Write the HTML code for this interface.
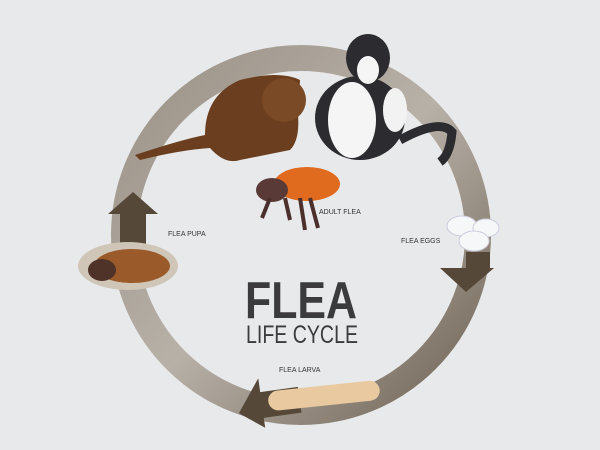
<!DOCTYPE html>
<html><head><style>
html,body{margin:0;padding:0;width:600px;height:450px;overflow:hidden;background:#e8e9eb;}
svg{display:block}
text{font-family:"Liberation Sans",sans-serif;}
</style></head><body>
<svg width="600" height="450" viewBox="0 0 600 450">
<defs>
<linearGradient id="g" x1="0" y1="0" x2="1" y2="1">
<stop offset="0" stop-color="#9a9186"/><stop offset="0.5" stop-color="#b8b1a8"/><stop offset="1" stop-color="#6e6254"/>
</linearGradient>
</defs>
<rect width="600" height="450" fill="#e8e9eb"/>
<circle cx="301" cy="235" r="177" fill="none" stroke="url(#g)" stroke-width="26"/>
<polygon points="108,214 133,192 158,214 146,214 146,250 120,250 120,214" fill="#564839"/>
<polygon points="440,268 466,268 466,252 490,252 490,268 494,268 466,292" fill="#564839"/>
<polygon points="238,410 262,378 262,392 300,392 300,418 262,418 262,428" fill="#564839" transform="rotate(-8 262 405)"/>
<ellipse cx="462" cy="226" rx="15" ry="10" fill="#f6f7f8" stroke="#ccd" />
<ellipse cx="486" cy="228" rx="13" ry="9" fill="#f6f7f8" stroke="#ccd"/>
<ellipse cx="474" cy="241" rx="15" ry="10" fill="#f6f7f8" stroke="#ccd"/>
<ellipse cx="128" cy="266" rx="50" ry="24" fill="#cfc6b8"/>
<ellipse cx="132" cy="266" rx="38" ry="17" fill="#9a5a2a"/>
<ellipse cx="102" cy="270" rx="14" ry="11" fill="#4f3228"/>
<rect x="268" y="386" width="112" height="20" rx="10" fill="#e8c9a0" transform="rotate(-6 320 396)"/>
<ellipse cx="307" cy="184" rx="33" ry="17" fill="#e06a1e"/>
<ellipse cx="272" cy="190" rx="16" ry="12" fill="#5a3a36"/>
<path d="M270 198 L262 218 M285 198 L290 220 M300 198 L305 230 M310 198 L318 228" stroke="#4a2f2c" stroke-width="4" fill="none"/>
<path d="M135 155 Q180 140 205 135 Q205 95 240 80 Q280 70 300 80 L298 115 Q300 140 290 150 L240 160 Q225 165 210 148 Q180 150 140 160 Z" fill="#6a3e1e"/>
<ellipse cx="284" cy="100" rx="22" ry="22" fill="#7a4a26"/>
<ellipse cx="360" cy="118" rx="45" ry="42" fill="#2c2c30"/>
<ellipse cx="352" cy="120" rx="24" ry="38" fill="#f5f5f5"/>
<ellipse cx="368" cy="58" rx="22" ry="24" fill="#2c2c30"/>
<ellipse cx="368" cy="70" rx="11" ry="14" fill="#f5f5f5"/>
<ellipse cx="395" cy="110" rx="12" ry="22" fill="#f2f2f2"/>
<path d="M400 140 Q440 118 452 132 Q450 155 440 162" stroke="#2c2c30" stroke-width="9" fill="none"/>
<text x="319" y="214" font-size="7" fill="#333">ADULT FLEA</text>
<text x="168" y="236" font-size="7" fill="#333">FLEA PUPA</text>
<text x="401" y="243" font-size="7" fill="#333">FLEA EGGS</text>
<text x="279" y="372" font-size="7" fill="#333">FLEA LARVA</text>
<text x="301" y="318" font-size="52" font-weight="bold" fill="#3b3b3d" text-anchor="middle" textLength="112" lengthAdjust="spacingAndGlyphs">FLEA</text>
<text x="302" y="343" font-size="25" fill="#3b3b3d" text-anchor="middle" textLength="112" lengthAdjust="spacingAndGlyphs">LIFE CYCLE</text>
</svg>
</body></html>
